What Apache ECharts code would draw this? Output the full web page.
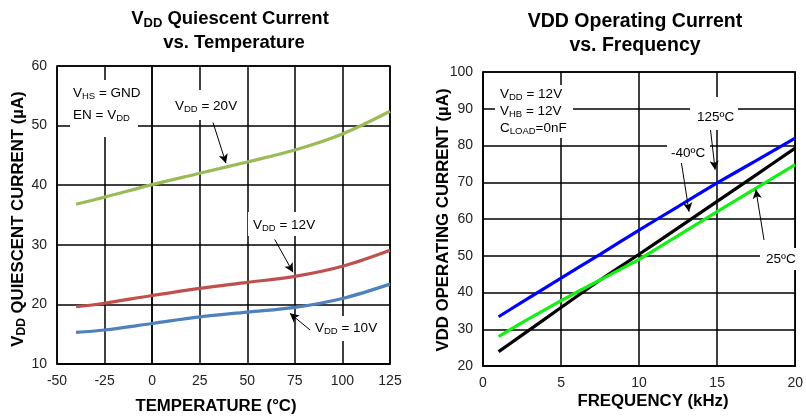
<!DOCTYPE html>
<html><head><meta charset="utf-8">
<script src="https://cdn.jsdelivr.net/npm/echarts@6/dist/echarts.min.js"></script>
<style>html,body{margin:0;padding:0;background:#fff}#c{width:806px;height:418px}</style>
</head><body><div id="c"></div>
<script>
// ---- Left chart data: VDD quiescent current vs temperature ----
const tempC = [-40, -25, 0, 25, 50, 75, 100, 125];
const iq20V = [36.8, 38.0, 40.1, 42.0, 43.9, 45.9, 48.6, 52.4];
const iq12V = [19.6, 20.2, 21.5, 22.7, 23.7, 24.7, 26.4, 29.1];
const iq10V = [15.3, 15.7, 16.8, 17.9, 18.7, 19.5, 21.0, 23.4];
// ---- Right chart data: VDD operating current vs frequency ----
const freqKHz = [1, 2.5, 5, 7.5, 10, 12.5, 15, 17.5, 20];
const iop125C = [33.4, 37.4, 43.9, 50.4, 57.0, 63.4, 69.8, 75.9, 82.0];
const iopM40C = [23.9, 28.4, 35.9, 43.4, 50.4, 57.6, 64.8, 72.0, 79.3];
const iop25C  = [28.0, 31.8, 37.8, 43.4, 49.0, 55.5, 62.0, 68.4, 74.8];
// axis ranges / ticks
const leftX = {min: -50, max: 125, step: 25};
const leftY = {min: 10, max: 60, step: 10};
const rightX = {min: 0, max: 20, step: 5};
const rightY = {min: 20, max: 100, step: 10};
// annotation arrows (data coords: [from], [to])
const arrows20V = [[32, 50.5], [38.8, 43.7]];
const arrows12V = [[64.4, 30.9], [74, 25.4]];
const arrows10V = [[83, 15.7], [72.4, 18.5]];
const arr125 = [[14.56, 84.8], [14.87, 73.4]];
const arrM40 = [[12.68, 76.1], [13.2, 62.0]];
const arr25 = [[18.0, 54.3], [17.48, 68.0]];

const FONT = "'Liberation Sans', Arial, sans-serif";
const zip = (a, b) => a.map((v, i) => [v, b[i]]);
const arrowLine = (p) => ({
  silent: true, symbol: ['none', 'arrow'], symbolSize: [7, 9], animation: false,
  lineStyle: {color: '#000', width: 1, type: 'solid'}, label: {show: false},
  emphasis: {disabled: true},
  data: [[{coord: p[0]}, {coord: p[1]}]]
});
const mkAxis = (r, gi) => ({
  type: 'value', gridIndex: gi, min: r.min, max: r.max, interval: r.step,
  axisLine: {show: true, lineStyle: {color: '#000', width: 1.5}},
  axisTick: {show: false},
  splitLine: {show: true, lineStyle: {color: '#000', width: 1.5}},
  axisLabel: {fontFamily: FONT, fontSize: 14, color: '#222', margin: 10}
});
const lineSeries = (name, x, y, color, xi, arrow, sm) => ({
  name, type: 'line', xAxisIndex: xi, yAxisIndex: xi, data: zip(x, y),
  smooth: sm, showSymbol: false, lineStyle: {color, width: 3.2},
  itemStyle: {color}, z: 3, markLine: arrow ? arrowLine(arrow) : undefined
});
const rich = {
  n: {fontFamily: FONT, fontSize: 13.5, color: '#111'},
  s: {fontFamily: FONT, fontSize: 9.5, color: '#111', padding: [7, 0, 0, 0]},
  tl: {fontFamily: FONT, fontSize: 18.5, fontWeight: 'bold', color: '#000'},
  tls: {fontFamily: FONT, fontSize: 13, fontWeight: 'bold', color: '#000', padding: [9, 0, 0, 0]},
  tr: {fontFamily: FONT, fontSize: 19.5, fontWeight: 'bold', color: '#000'},
  ab: {fontFamily: FONT, fontSize: 16.8, fontWeight: 'bold', color: '#111'},
  as: {fontFamily: FONT, fontSize: 12, fontWeight: 'bold', color: '#111', padding: [8, 0, 0, 0]}
};
const txt = (text, x, y, align) => ({
  type: 'text', x, y, z: 20,
  style: {text, rich, textAlign: align || 'left', textVerticalAlign: 'middle'}
});
const box = (x1, y1, x2, y2) => ({type: 'rect', z: 15, shape: {x: x1, y: y1, width: x2 - x1, height: y2 - y1}, style: {fill: '#fff'}});

const chart = echarts.init(document.getElementById('c'), null, {renderer: 'canvas'});
chart.setOption({
  animation: false,
  backgroundColor: '#fff',
  grid: [
    {left: 57, top: 66, width: 333, height: 298, show: true, borderColor: '#000', borderWidth: 1.5},
    {left: 483, top: 72, width: 319, height: 294, show: true, borderColor: '#000', borderWidth: 1.5}
  ],
  xAxis: [mkAxis(leftX, 0), mkAxis(rightX, 1)],
  yAxis: [mkAxis(leftY, 0), mkAxis(rightY, 1)],
  series: [
    lineSeries('VDD = 20V', tempC, iq20V, '#9BBB59', 0, arrows20V, 0.35),
    lineSeries('VDD = 12V', tempC, iq12V, '#C0504D', 0, arrows12V, 0.35),
    lineSeries('VDD = 10V', tempC, iq10V, '#4F81BD', 0, arrows10V, 0.35),
    lineSeries('125ºC', freqKHz, iop125C, '#0000FF', 1, arr125, 0.15),
    lineSeries('-40ºC', freqKHz, iopM40C, '#000000', 1, arrM40, 0.15),
    lineSeries('25ºC', freqKHz, iop25C, '#14F014', 1, arr25, 0.15)
  ],
  graphic: [
    // titles
    txt('{tl|V}{tls|DD}{tl| Quiescent Current}', 230, 19, 'center'),
    txt('{tl|vs. Temperature}', 234, 43, 'center'),
    txt('{tr|VDD Operating Current}', 635, 22, 'center'),
    txt('{tr|vs. Frequency}', 635, 46, 'center'),
    // axis names
    {type: 'text', x: 18, y: 219, rotation: Math.PI / 2, z: 20,
      style: {text: '{ab|V}{as|DD}{ab| QUIESCENT CURRENT (µA)}', rich, textAlign: 'center', textVerticalAlign: 'middle'}},
    {type: 'text', x: 443, y: 220, rotation: Math.PI / 2, z: 20,
      style: {text: '{ab|VDD OPERATING CURRENT (µA)}', rich, textAlign: 'center', textVerticalAlign: 'middle'}},
    txt('{ab|TEMPERATURE (°C)}', 216, 406, 'center'),
    txt('{ab|FREQUENCY (kHz)}', 653, 401, 'center'),
    // left annotations
    box(70, 80, 138, 137),
    txt('{n|V}{s|HS}{n| = GND}', 73, 93),
    txt('{n|EN = V}{s|DD}', 73, 115),
    box(170, 90, 242, 120),
    txt('{n|V}{s|DD}{n| = 20V}', 175, 106),
    box(248, 212, 312, 236),
    txt('{n|V}{s|DD}{n| = 12V}', 253, 225),
    box(311, 316, 382, 341),
    txt('{n|V}{s|DD}{n| = 10V}', 315, 328),
    // right annotations
    box(495, 85, 573, 138),
    txt('{n|V}{s|DD}{n| = 12V}', 500, 94),
    txt('{n|V}{s|HB}{n| = 12V}', 500, 111),
    txt('{n|C}{s|LOAD}{n|=0nF}', 500, 128),
    box(690, 97, 738, 130),
    txt('{n|125ºC}', 697, 117),
    box(667, 142, 710, 163),
    txt('{n|-40ºC}', 671, 153),
    box(760, 248, 806, 270),
    txt('{n|25ºC}', 766, 259)
  ]
});
</script></body></html>
